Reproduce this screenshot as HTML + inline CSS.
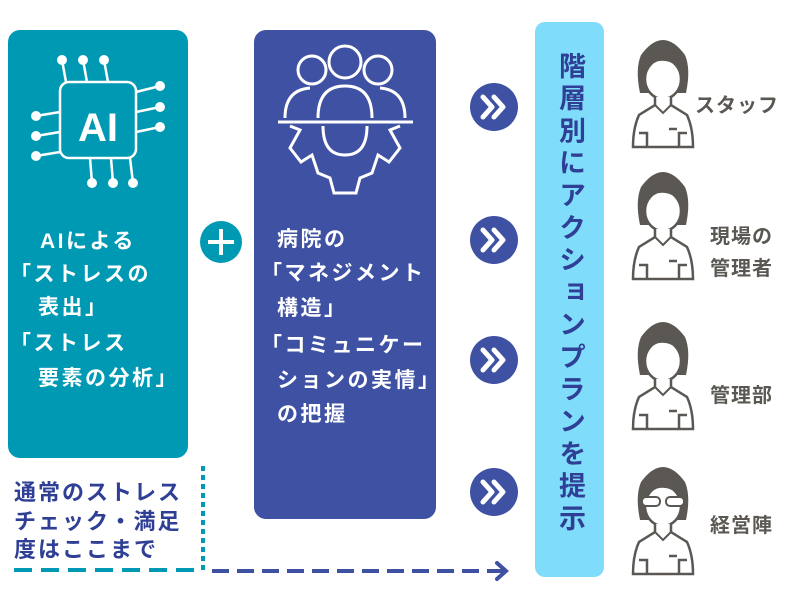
<!DOCTYPE html>
<html><head><meta charset="utf-8"><style>
body{margin:0;width:800px;height:600px;background:#fff;position:relative;overflow:hidden;font-family:"Liberation Sans","Noto Sans CJK JP",sans-serif;font-weight:bold}
.a{position:absolute;white-space:nowrap}
.w{color:#fff;font-size:21px;letter-spacing:2.5px;line-height:24px}
.n{color:#2f3f95;font-size:22px;letter-spacing:2px;line-height:24px}
.g{color:#5b5753;font-size:20px;line-height:22px;letter-spacing:1px}
</style></head><body>
<div class="a" style="left:8px;top:30px;width:180px;height:428px;background:#0099b4;border-radius:12px"></div>
<div class="a" style="left:254px;top:30px;width:182px;height:489px;background:#3f51a3;border-radius:12px"></div>
<div class="a" style="left:535px;top:22px;width:69px;height:555px;background:#7fdcfa;border-radius:10px"></div>

<svg class="a" style="left:0;top:0" width="800" height="600">
 <g stroke="#fff" stroke-width="2.5" fill="none">
  <rect x="60" y="82" width="76" height="76" rx="9"/>
  <line x1="66" y1="82" x2="62" y2="60"/><line x1="87" y1="82" x2="83" y2="60"/><line x1="108" y1="82" x2="104" y2="60"/>
  <line x1="90" y1="158" x2="92" y2="183"/><line x1="111" y1="158" x2="113" y2="183"/><line x1="130" y1="158" x2="133" y2="183"/>
  <line x1="136" y1="92" x2="160" y2="86"/><line x1="136" y1="112" x2="160" y2="107"/><line x1="136" y1="132" x2="160" y2="127"/>
  <line x1="60" y1="112" x2="36" y2="116"/><line x1="60" y1="132" x2="36" y2="136"/><line x1="60" y1="152" x2="36" y2="156"/>
 </g>
 <g fill="#fff">
  <circle cx="62" cy="60" r="5"/><circle cx="83" cy="60" r="5"/><circle cx="104" cy="60" r="5"/>
  <circle cx="92" cy="183" r="5"/><circle cx="113" cy="183" r="5"/><circle cx="133" cy="183" r="5"/>
  <circle cx="160" cy="86" r="5"/><circle cx="160" cy="107" r="5"/><circle cx="160" cy="127" r="5"/>
  <circle cx="36" cy="116" r="5"/><circle cx="36" cy="136" r="5"/><circle cx="36" cy="156" r="5"/>
 </g>
 <text x="98" y="141" fill="#fff" font-size="40" font-weight="bold" text-anchor="middle" font-family="Liberation Sans">AI</text>
 <g stroke="#fff" stroke-width="3" fill="none">
  <circle cx="312" cy="70" r="14"/><circle cx="345" cy="62" r="16"/><circle cx="378" cy="70" r="14"/>
  <path d="M285 118 Q285 90 310 88"/><path d="M405 118 Q405 90 380 88"/>
  <path d="M318 118 Q318 86 345 86 Q372 86 372 118"/>
  <line x1="278" y1="122" x2="413" y2="122"/>
  <path d="M323 126 Q323 155 345 155 Q367 155 367 126"/>
  <path d="M290 126 L300 130 L290 148 L301 162 L312 155 L318 173 L330 178 L334 193 L356 193 L360 178 L372 173 L378 155 L389 162 L400 148 L390 130 L400 126"/>
 </g>
 <circle cx="221" cy="242" r="21" fill="#0099b4"/>
 <path d="M208 242 H234 M221 229 V255" stroke="#fff" stroke-width="4"/>
 <g>
  <circle cx="494" cy="107" r="24" fill="#3f51a3"/><circle cx="494" cy="240" r="24" fill="#3f51a3"/>
  <circle cx="494" cy="360" r="24" fill="#3f51a3"/><circle cx="494" cy="492" r="24" fill="#3f51a3"/>
  <g stroke="#fff" stroke-width="5" fill="none" stroke-linecap="round" stroke-linejoin="round">
   <path d="M483 97 L492 107 L483 117 M494 97 L503 107 L494 117"/>
   <path d="M483 230 L492 240 L483 250 M494 230 L503 240 L494 250"/>
   <path d="M483 350 L492 360 L483 370 M494 350 L503 360 L494 370"/>
   <path d="M483 482 L492 492 L483 502 M494 482 L503 492 L494 502"/>
  </g>
 </g>
 <line x1="203" y1="466" x2="203" y2="570" stroke="#0099b4" stroke-width="4" stroke-dasharray="5 4"/>
 <line x1="14" y1="570" x2="203" y2="570" stroke="#0099b4" stroke-width="4" stroke-dasharray="18 9"/>
 <line x1="212" y1="571" x2="508" y2="571" stroke="#3f51a3" stroke-width="4" stroke-dasharray="17 8"/>
 <path d="M497 563 L506 571 L497 579" stroke="#3f51a3" stroke-width="4" fill="none" stroke-linecap="round"/>
 <defs>
  <g id="p">
   <path d="M7 60 Q2 36 8 22 Q30 -8 52 22 Q58 36 53 60 Z" fill="#5b5753"/>
   <ellipse cx="30" cy="46" rx="18" ry="20" fill="#fff" stroke="#5b5753" stroke-width="2.5"/>
   <path d="M10 40 Q12 12 30 10 Q48 12 50 40 Q40 26 26 28 Q16 30 10 40Z" fill="#5b5753"/>
   <path d="M22 64 L22 72 L6 82 Q0 95 0 114 L60 114 Q60 95 54 82 L38 72 L38 64" fill="#fff" stroke="#5b5753" stroke-width="2.5"/>
   <path d="M22 72 L30 80 L38 72" fill="none" stroke="#5b5753" stroke-width="2"/>
   <path d="M6 100 L14 100 L14 114 M54 100 L46 100 L46 114 M36 96 L44 96" fill="none" stroke="#5b5753" stroke-width="2.5"/>
  </g>
 </defs>
 <use href="#p" x="633" y="33"/>
 <use href="#p" x="633" y="165"/>
 <use href="#p" x="633" y="315"/>
 <use href="#p" x="633" y="460"/>
 <g stroke="#5b5753" stroke-width="2" fill="#fff"><rect x="642" y="497" width="18" height="9" rx="4"/><rect x="666" y="497" width="18" height="9" rx="4"/></g>
</svg>

<div class="a w" style="left:40px;top:230px">AIによる</div>
<div class="a w" style="left:10px;top:263px">「ストレスの</div>
<div class="a w" style="left:38px;top:296px">表出」</div>
<div class="a w" style="left:10px;top:332px">「ストレス</div>
<div class="a w" style="left:38px;top:367px">要素の分析」</div>

<div class="a w" style="left:277px;top:228px">病院の</div>
<div class="a w" style="left:261px;top:262px">「マネジメント</div>
<div class="a w" style="left:277px;top:297px">構造」</div>
<div class="a w" style="left:261px;top:334px">「コミュニケー</div>
<div class="a w" style="left:277px;top:369px">ションの実情」</div>
<div class="a w" style="left:277px;top:403px">の把握</div>

<div class="a n" style="left:14px;top:481px">通常のストレス</div>
<div class="a n" style="left:14px;top:510px">チェック・満足</div>
<div class="a n" style="left:14px;top:538px">度はここまで</div>

<div class="a" style="left:553px;top:52px;width:34px;font-size:27px;line-height:34px;letter-spacing:5.3px;color:#2f3f95;writing-mode:vertical-rl">階層別にアクションプランを提示</div>

<div class="a g" style="left:695px;top:95px">スタッフ</div>
<div class="a g" style="left:710px;top:226px">現場の</div>
<div class="a g" style="left:710px;top:258px">管理者</div>
<div class="a g" style="left:710px;top:385px">管理部</div>
<div class="a g" style="left:710px;top:515px">経営陣</div>
</body></html>
